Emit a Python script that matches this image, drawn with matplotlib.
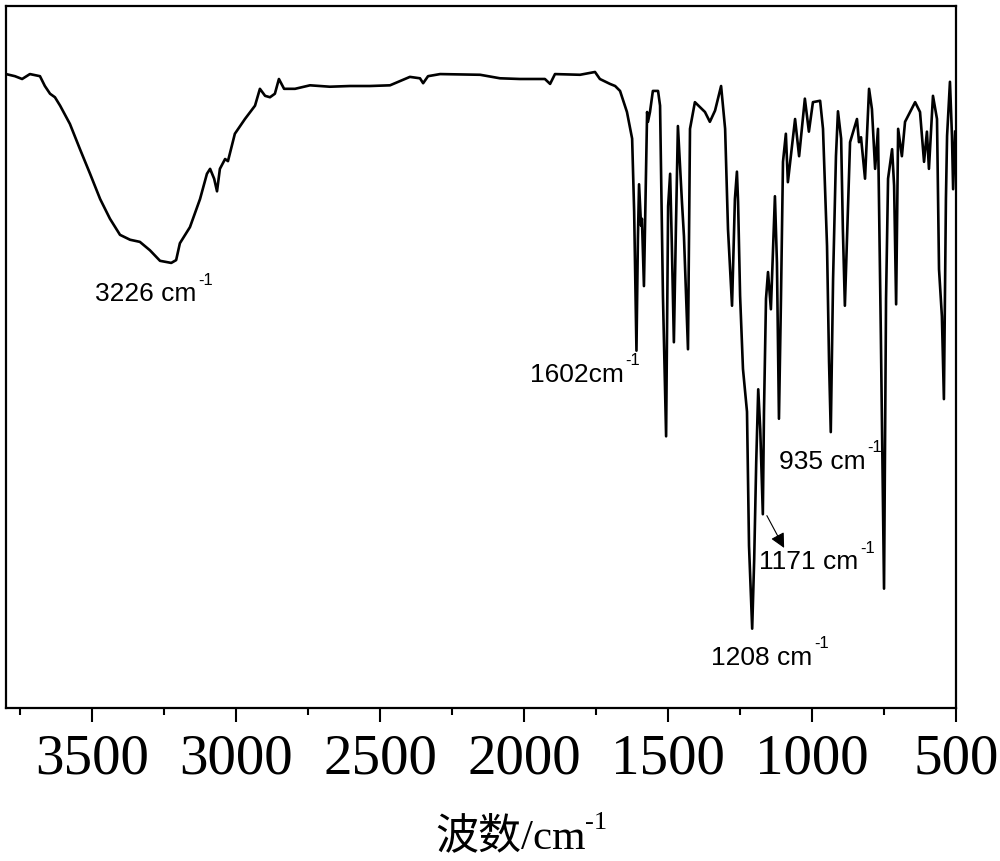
import matplotlib
matplotlib.use("Agg")
import matplotlib.pyplot as plt
from matplotlib.ticker import MultipleLocator

# Wavenumber (cm-1) and transmittance (%)
wavenumber = [3800, 3769, 3744, 3717, 3682, 3665, 3647, 3630, 3612, 3578, 3543, 3508, 3473,
              3439, 3404, 3369, 3335, 3300, 3265, 3226, 3209, 3196, 3161, 3126, 3102, 3091,
              3077, 3067, 3057, 3039, 3029, 3005, 2970, 2935, 2918, 2900, 2883, 2866, 2852,
              2834, 2796, 2744, 2675, 2605, 2536, 2466, 2397, 2362, 2351, 2334, 2292, 2153,
              2084, 2015, 1928, 1910, 1893, 1806, 1754, 1737, 1702, 1684, 1667, 1643, 1625,
              1618, 1610, 1605, 1601, 1594, 1591, 1584, 1577, 1573, 1570, 1563, 1553, 1535,
              1528, 1518, 1507, 1500, 1493, 1487, 1480, 1473, 1466, 1452, 1445, 1431, 1424,
              1407, 1372, 1355, 1337, 1316, 1302, 1292, 1278, 1268, 1261, 1257, 1250, 1240,
              1226, 1219, 1208, 1201, 1194, 1187, 1180, 1171, 1167, 1160, 1153, 1143, 1129,
              1122, 1115, 1108, 1101, 1091, 1084, 1059, 1045, 1025, 1011, 997, 972, 962, 948,
              941, 935, 927, 917, 910, 899, 893, 886, 875, 868, 844, 837, 830, 816, 802, 792,
              781, 771, 761, 750, 743, 736, 722, 715, 708, 701, 688, 677, 642, 625, 611, 601,
              594, 580, 566, 559, 549, 542, 535, 531, 521, 514, 510, 503]
transmittance = [90.3, 90.0, 89.6, 90.3, 90.0, 88.6, 87.5, 87.0, 85.8, 83.2, 79.6, 76.1, 72.5,
                 69.7, 67.4, 66.7, 66.4, 65.2, 63.7, 63.4, 63.8, 66.2, 68.5, 72.5, 76.1, 76.8,
                 75.4, 73.6, 76.8, 78.2, 77.9, 81.8, 83.9, 85.8, 88.2, 87.2, 87.0, 87.5, 89.6,
                 88.2, 88.2, 88.7, 88.5, 88.6, 88.6, 88.7, 89.9, 89.7, 89.0, 90.0, 90.3, 90.2,
                 89.7, 89.6, 89.6, 88.9, 90.3, 90.2, 90.6, 89.6, 88.9, 88.6, 87.9, 84.9, 81.1,
                 70.7, 50.9, 66.8, 74.6, 68.7, 69.7, 60.1, 75.4, 84.9, 83.5, 84.9, 87.9, 87.9,
                 85.8, 58.7, 38.7, 71.5, 76.1, 65.8, 52.1, 68.2, 82.9, 72.1, 67.2, 51.1, 82.5,
                 86.3, 84.9, 83.5, 85.1, 88.6, 82.5, 68.2, 57.3, 72.5, 76.4, 72.1, 58.7, 48.3,
                 42.2, 23.1, 11.3, 21.2, 35.0, 45.4, 39.7, 27.6, 42.2, 58.3, 62.1, 56.8, 72.9,
                 63.4, 41.2, 58.3, 77.8, 81.8, 74.9, 83.9, 78.6, 86.8, 82.1, 86.3, 86.5, 82.5, 65.8,
                 49.3, 39.3, 61.1, 78.6, 85.0, 81.1, 68.2, 57.3, 71.5, 80.6, 83.9, 80.6, 81.3,
                 75.4, 88.2, 85.3, 76.8, 82.5, 53.0, 17.0, 58.3, 75.4, 79.6, 74.4, 57.5, 82.5,
                 78.6, 83.5, 86.3, 84.9, 77.8, 82.1, 76.8, 87.2, 83.9, 62.5, 55.8, 44.0, 72.5,
                 81.5, 89.2, 81.5, 73.9, 82.1]

x_ticks = [3500, 3000, 2500, 2000, 1500, 1000, 500]

# peak labels: (text, x, y)
peak_labels = [("3226 cm", 3491, 59.1),
               ("1602cm", 1980, 47.6),
               ("935 cm", 1115, 35.2),
               ("1171 cm", 1184, 20.9),
               ("1208 cm", 1351, 7.3)]

fig = plt.figure(figsize=(10, 8.62), dpi=100)
ax = fig.add_axes([0.006, 0.1775, 0.950, 0.8144])

ax.plot(wavenumber, transmittance, color='black', lw=1.9)
ax.set_xlim(3800, 500)
ax.set_ylim(0, 100)
ax.set_yticks([])
ax.set_xticks(x_ticks)
ax.xaxis.set_minor_locator(MultipleLocator(250))
ax.tick_params(axis='x', which='major', direction='out', length=10, width=1.5, pad=8)
ax.tick_params(axis='x', which='minor', direction='out', length=5, width=1.5)
for lab in ax.get_xticklabels():
    lab.set_fontfamily('Liberation Serif')
    lab.set_fontsize(41)
for sp in ax.spines.values():
    sp.set_linewidth(1.6)

for txt, xv, yv in peak_labels:
    t = ax.text(xv, yv, txt, fontsize=19, family='Liberation Sans',
                ha='left', va='center')
    ax.annotate("-1", xy=(1.02, 1.08), xycoords=t, fontsize=12,
                family='Liberation Sans', ha='left', va='center')

ax.annotate("", xy=(1097, 22.8), xytext=(1157, 27.4),
            arrowprops=dict(arrowstyle='-|>', color='black', lw=0.8,
                            mutation_scale=22, shrinkA=0, shrinkB=0))

xl = fig.text(0.435, 0.029, "波数/cm", fontsize=31,
              family=['Liberation Serif', 'Noto Sans CJK SC'], ha='left', va='center')
ax.annotate("-1", xy=(1.0, 0.85), xycoords=xl, fontsize=19,
            family='Liberation Serif', ha='left', va='center', annotation_clip=False)

fig.savefig("out.png", dpi=100)
